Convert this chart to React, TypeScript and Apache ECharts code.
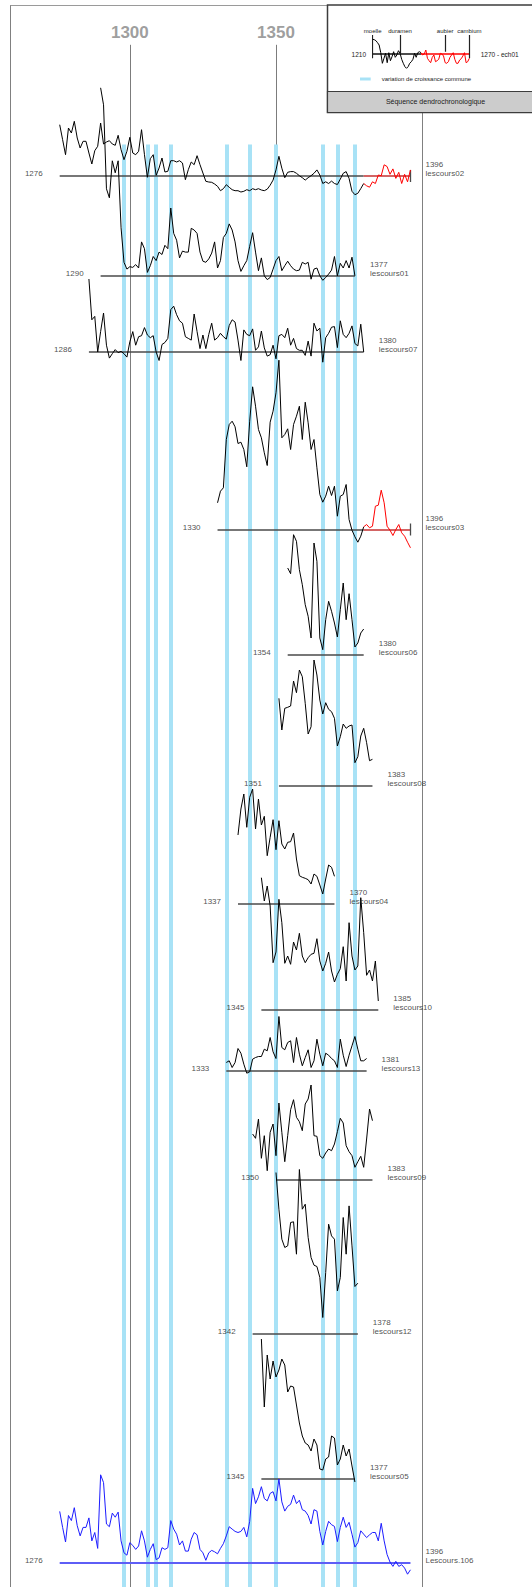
import React, { useEffect, useRef } from "react";
import * as echarts from "echarts";

const FONT = '"Liberation Sans", Arial, Helvetica, sans-serif';

// ---- dendrochronological samples -------------------------------------------
const sampleNames = [
  "lescours02", "lescours01", "lescours07", "lescours03", "lescours06", "lescours08", "lescours04",
  "lescours10", "lescours13", "lescours09", "lescours12", "lescours05", "Lescours.106",
];
// first / last dated ring of each sample
const firstYears = [1276, 1290, 1286, 1330, 1354, 1351, 1337, 1345, 1333, 1350, 1342, 1345, 1276];
const lastYears = [1396, 1377, 1380, 1396, 1380, 1383, 1370, 1385, 1381, 1383, 1378, 1377, 1396];
// first ring of the plotted ring-width curve
const curveFirstYears = [1276, 1290, 1286, 1330, 1354, 1351, 1337, 1345, 1333, 1342, 1350, 1345, 1276];
// first sapwood ring (aubier), 0 = none
const sapwoodFrom = [1380, 0, 0, 1380, 0, 0, 0, 0, 0, 0, 0, 0, 0];

// ring-width indices (one value per year)
const rw02 = [51.3, 36.3, 21.3, 48, 43, 54.7, 38, 28, 34.7, 34.7, 23, 12, 25.3, 29.7, 53, 32, 34, 35.3, 32, 30.7, 40.7, 26.3, 16.3, 24.7, 38.7, 23, 21.3, 24.7, 46.3, 21.3, -1.3, 17.3, 21.3, 0.7, 8, 18, 4, 4.7, 15.3, 15.3, 14, 15.3, 13, -3.7, 6.3, 14, 11.3, 20.3, 11.3, 3, -5.3, -6, -6.3, -8, -10.3, -14.7, -12.7, -8.7, -11.3, -13.7, -14.7, -14.7, -16, -15.3, -13.7, -14.7, -12.7, -13.7, -12.7, -14, -14.7,
  -13.2, -9.2, -4.1, 6.1, 19.7, 7.8, -1.7, 3.7, 4.4, 4.4, 2.7, 0.3, -1.7, -4.1, -1.7, 0.3, 2.7, 6.1, 1, -7.5, -5.8, -7.5, -5.1, -7.5, -8.5, -3.1, 2.7, 4.4, -2.4, -15.3, -18.7, -17.3, -12.6, -7.5, -9.8, -11.2, -5.8, -7.5, 1, 0.3, 11.2, 9.5, 1.7, 7.1, -2.4, 3.7, -7.5, 1.7, -5.8, 6.1];
const rw01 = [187.7, 170.7, 86.7, 77.7, 114.7, 102.7, 114.7, 47.7, 13.2, 6.4, 8.8, 8.1, 10.9, 7.5, 33.6, 26.8, 3.1, 9.8, 19, 14.9, 23.4, 21, 30.2, 26.8, 67.5, 42.1, 35.3, 17.6, 24.4, 23.4, 23.4, 47.2, 45.5, 42.1, 23.4, 14.3, 13.2, 16.6, 22.4, 33.6, 7.5, 14.9, 38, 42.1, 51.6, 45.5, 33.6, 14.9, 4.1, 9.8, 14.9, 29.2, 42.8, 23.4, 4.8, 17.6, -0.3, -4.1, -2, 6.4, 14.9, 19, 4.8, 9.8, 14.3, 9.8, 6.4, 4.8, 5.4, 13.2, 11.5, 13.2, -3.7, 6.4, 7.5, -0.3, -4.8, -2, 1.4, 5.4, 19, -0.3, 12.2, 7.5, 14.9, 7.5, 18.3, -0.3];
const rw07 = [73, 32.2, 35.6, 0, 20.4, 39, 6.8, -6.1, -1.7, 2.4, -0.7, 0.7, -1.7, -5.1, 10.2, 20.4, 6.8, 15.3, 16.3, 24.4, 17, 14.3, 16.3, 0, -8.5, 7.5, 9.5, 13.6, 42.4, 45.8, 37.3, 31.2, 28.8, 15.3, 13.6, 11.9, 38, 20.4, 3.4, 17, 3.4, 17.6, 28.8, 11.9, 14.3, 18.7, 15.3, 12.9, 26.5, 32.2, 29.9, 11.9, -8.5, 22.1, 17.6, 16.3, 23.1, 1.7, 5.1, 21, 4.1, -4.1, -2.7, 6.8, -6.8, 16.3, 17.6, 14.3, 23.8, 6.8, 13.6, 3.4, 1.7, 1.7, -3.4, 10.9, -4.1, 28.8, 21, 23.8, -10.2, 14.3, 18.7, 24.8, 25.4, 4.4, 31.2, 17.6, 14.3, 18.7, 26.1, 8.5, 6.1, 27.8, 0];
const rw03 = [26.7, 38.3, 41.7, 90, 105, 108.3, 102.7, 86, 87.3, 80, 62.7, 108.3, 142.7, 123.3, 100, 91.7, 76.7, 64, 107.3, 118.3, 136.7, 169.3, 91.7, 95, 100.7, 80, 105, 113.3, 123.3, 90, 127.3, 106.7, 80, 90, 61.7, 35, 27.3, 33.3, 43.3, 34, 43.3, 13.3, 33.3, 35, 45, 10, -0.7, -7.3, -12.7, -6.7, 2.7, 5, 1.7, 3.3, 23.3, 24.3, 39.3, 26.7, 3.3, -0.7, -6, 0, 5, -3.3, -6.7, -12.7, -18.3];
const rw06 = [87, 81.3, 120.3, 113.7, 85.3, 70.3, 50.3, 38.7, 17, 112, 93.7, 17, 5.3, 35.3, 53.7, 43.7, 32, 18, 45.3, 72, 35.3, 61.3, 35.3, 8, 12, 22, 26];
const rw08 = [87.7, 56, 77.7, 78.7, 80, 105, 93.3, 116, 109.3, 82.7, 52, 59.3, 126, 111, 86, 72, 83.3, 76.7, 74.3, 67.7, 40, 49.3, 62, 57.7, 60, 61, 23.3, 29.3, 50, 57.7, 43.3, 25.3, 26.7];
const rw04 = [69, 95, 110, 76.7, 106.7, 115, 75, 105, 79, 87.7, 48.3, 66.7, 84.3, 54.3, 83.3, 60, 55, 61.7, 62.3, 71, 45, 28.3, 26.7, 25.7, 24.3, 20, 30, 27.7, 19, 10, 25, 39, 36.7, 27.7];
const rw10 = [132.3, 109, 124, 104, 47.3, 58, 110.7, 87.3, 46.7, 54, 45.7, 68, 60, 76.7, 54, 47.3, 52.3, 55.7, 56.7, 71.3, 49, 39, 46.7, 58, 39, 28, 35.7, 41.3, 63.3, 29, 87.3, 54, 40, 44, 112.3, 77.3, 34.7, 40, 29, 49, 9];
const rw13 = [8, 9.7, 3, 8, 22, 17.3, 6.3, -2.7, -1.3, 11.3, 13, 14, 14, 21.3, 19.7, 33, 18.7, 12, 54, 23, 20.7, 28, 29.7, 8, 33, 16.3, 4.7, 13, 20.7, 3, 9.7, 31.3, 16.3, 4.7, 17.3, 15.3, 12, 9.7, 3, 31.3, 15.3, 4, 15.3, 24.7, 34, 21.3, 9.7, 9.7, 12];
const rw09 = [46, 41.7, 61, 21.7, 44.3, 9.3, 47.7, 56, 24.3, 77, 47.7, 18.3, 44.3, 70.3, 80.3, 62.7, 58.3, 49.3, 76, 81, 95, 44.3, 43.7, 24.3, 21.7, 27, 31, 29.3, 36, 48.3, 61.7, 57, 34.3, 28.3, 24.3, 12.7, 18.3, 23.7, 12.7, 41, 71, 59.3];
const rw12 = [161, 124.3, 94.3, 86, 87.7, 111, 111.7, 79.3, 164, 124.3, 129.3, 96, 76, 68.3, 67, 56, 16, 61, 109.3, 97.6, 94.3, 42.6, 56, 116, 79.3, 127.6, 87.6, 47, 50.3];
const rw05 = [140, 72, 124, 100, 118, 102, 109, 120, 114, 87, 93, 92, 74, 56, 43, 36, 34, 28, 40, 34, 10, 9, 20, 22, 43, 41, 14, 20, 34, 23, 30, 13, -3];
const rw106 = [51.6, 35.6, 21, 47.5, 42.4, 55.3, 37.3, 27.1, 35.6, 35.6, 45.1, 22.1, 30.5, 14.6, 88.2, 80.4, 39, 36.3, 49.9, 45.8, 50.9, 22.1, 10.2, 7.8, 20.4, 17.6, 13.6, 17, 32.2, 22.1, 5.8, 13.6, 19.3, 3.4, 5.1, 15.3, 13.6, 15.3, 42.4, 33.9, 28.8, 18, 22.1, 11.9, 11.9, 23.8, 30.5, 28.2, 13.6, 10.2, 2.7, 10.2, 12.6, 11.2, 9.2, 14.6, 19.3, 27.1, 36.3, 33.9, 31.6, 30.5, 31.6, 35.6, 26.1, 41.7, 74.6, 59.4, 66.2, 76.3, 64.5, 62.1, 69.6, 71.3, 62.1, 84.1, 61.1, 51.9, 56.7, 58.7, 67.9, 59.4, 62.8, 53.3, 51.9, 47.5, 39, 53.3, 51.9, 31.6, 18, 31.6, 41.7, 38.3, 36.6, 21.4, 35.6, 45.8, 35.6, 40.7, 28.8, 15.9, 20.4, 32.2, 28.8, 25.4, 28.2, 30.5, 30.5, 22.1, 39.7, 22.1, 8.5, 1, -3.4, 1.7, -3.4, -1.7, -5.1, -11.2, -6.8];
const ringWidths = [rw02, rw01, rw07, rw03, rw06, rw08, rw04, rw10, rw13, rw09, rw12, rw05, rw106];

// years of common growth variation (blue bands) and the marked decades
const commonGrowthYears = [1298, 1306, 1309, 1314, 1333, 1341, 1350, 1366, 1371, 1377];
const markerYears = [1300, 1350];

// legend specimen "ech01"
const legendFirst = 1210;
const legendLast = 1270;
const legendSapwood = 1240;
const legendRings = [14.7, 14.3, 13.3, 11.3, 9, 1.3, -9.3, -4.3, 0.7, -8.7, 1.3, -6.7, -2.7, 2.3, -3.3, -1, 3.3, 0.7, -5.3, -9.3, -12.7, -14.3, -12.7, -9.3, -7.7, -5.3, 0.7, -3.3, 1.3, 2.3, 1.3, -1, 0, 4, -4.3, -6.7, -8.7, -3.3, -1, -7.7, -6.7, -5.3, 0.7, 0, -2, -8.7, -9.3, -7.7, -3.3, -1, 1.3, -5.3, -9.3, -9.3, -6, -4.7, -2, 1.3, -8.7, -7.7, -4.3];
const legendMarkNames = ["moelle", "duramen", "aubier", "cambium"];
const legendMarkYears = [1210, 1227, 1255, 1270];
const legendMarkLow = [-4.3, 0.7, 2.3, -4.3];

// ---- layout -------------------------------------------------------------------
const W = 532;
const H = 1587;
const X_MIN = 1255.58;
const X_MAX = 1437.58;
const trackBaseY = [176, 275.5, 352, 529.5, 655, 786, 904, 1010, 1070.5, 1180, 1333.5, 1479, 1563];
const BAND_TOP = 144.5;
const MARKER_TOP = 44.8;
const TITLE_Y = 32.5;
const BLUE_BAND = "#a8e2f6";

function ringPoints(first: number, values: number[], base: number, from: number, to: number) {
  const pts: number[][] = [];
  values.forEach((v, i) => {
    const yr = first + i;
    if (yr >= from && yr <= to) pts.push([yr, base - v]);
  });
  return pts;
}

function buildOption() {
  const series: any[] = [];
  const lineCommon = { type: "line", symbol: "none", silent: true, animation: false };

  series.push({
    type: "lines", coordinateSystem: "cartesian2d", xAxisIndex: 0, yAxisIndex: 0, z: 1, silent: true,
    lineStyle: { color: "#7c7c7c", width: 1, opacity: 1 },
    data: markerYears.map((y) => ({ coords: [[y, MARKER_TOP], [y, H]] })),
  });
  series.push({
    type: "lines", coordinateSystem: "cartesian2d", xAxisIndex: 0, yAxisIndex: 0, z: 2, silent: true,
    lineStyle: { color: BLUE_BAND, width: 4, opacity: 1 },
    data: commonGrowthYears.map((y) => ({ coords: [[y, BAND_TOP], [y, H]] })),
  });
  series.push({
    type: "scatter", xAxisIndex: 0, yAxisIndex: 0, symbolSize: 1, z: 5, silent: true,
    itemStyle: { color: "rgba(0,0,0,0)" },
    data: markerYears.map((y) => ({
      value: [y, TITLE_Y],
      label: { show: true, position: "inside", formatter: String(y), color: "#858585", fontSize: 17, fontWeight: "bold", fontFamily: FONT },
    })),
  });

  sampleNames.forEach((name, k) => {
    const base = trackBaseY[k];
    const first = firstYears[k];
    const last = lastYears[k];
    const sap = sapwoodFrom[k];
    const isMaster = k === sampleNames.length - 1;
    const heartEnd = sap ? sap : last;
    const curveColor = isMaster ? "#1c1cff" : "#000000";
    const baseColor = isMaster ? "#5e5ef6" : "#4a4a4a";

    const baseSegments: any[] = [{ coords: [[first, base], [heartEnd, base]], lineStyle: { color: baseColor } }];
    if (sap) {
      baseSegments.push({ coords: [[sap, base], [last, base]], lineStyle: { color: "#c43131" } });
      baseSegments.push({ coords: [[last, base - 6], [last, base + 6]], lineStyle: { color: "#4a4a4a", width: 1.3 } });
    }
    series.push({
      type: "lines", coordinateSystem: "cartesian2d", xAxisIndex: 0, yAxisIndex: 0, z: 3, silent: true,
      lineStyle: { width: isMaster ? 2 : 1.5, opacity: 1 },
      data: baseSegments,
    });

    const cFirst = curveFirstYears[k];
    const vals = ringWidths[k];
    series.push({
      ...lineCommon, xAxisIndex: 0, yAxisIndex: 0, z: 4,
      lineStyle: { color: curveColor, width: 1 },
      data: ringPoints(cFirst, vals, base, cFirst, heartEnd),
    });
    if (sap) {
      series.push({
        ...lineCommon, xAxisIndex: 0, yAxisIndex: 0, z: 4,
        lineStyle: { color: "#ff0000", width: 1 },
        data: ringPoints(cFirst, vals, base, sap, last),
      });
    }

    const labelStyle = { color: "#1a1a1a", fontSize: 8, fontFamily: FONT };
    series.push({
      type: "scatter", xAxisIndex: 0, yAxisIndex: 0, symbolSize: 1, z: 5, silent: true,
      itemStyle: { color: "rgba(0,0,0,0)" },
      data: [
        { value: [first, base], label: { show: true, position: "left", distance: 16.5, offset: [0, -2.5], formatter: String(first), ...labelStyle } },
        { value: [last, base], label: { show: true, position: "right", distance: 14.5, offset: [0, -7], lineHeight: 9, formatter: `${last}\n${name}`, ...labelStyle } },
      ],
    });
  });

  // legend specimen
  series.push({
    type: "lines", coordinateSystem: "cartesian2d", xAxisIndex: 1, yAxisIndex: 1, z: 3, silent: true,
    lineStyle: { width: 1.5, opacity: 1 },
    data: [
      { coords: [[legendFirst, 0], [legendSapwood, 0]], lineStyle: { color: "#111111" } },
      { coords: [[legendSapwood, 0], [legendLast, 0]], lineStyle: { color: "#ff0000" } },
    ],
  });
  series.push({
    type: "lines", coordinateSystem: "cartesian2d", xAxisIndex: 1, yAxisIndex: 1, z: 3, silent: true,
    lineStyle: { width: 1.2, color: "#222222", opacity: 1 },
    data: legendMarkYears.map((y, i) => ({ coords: [[y, 19], [y, legendMarkLow[i]]] })),
  });
  series.push({
    ...lineCommon, xAxisIndex: 1, yAxisIndex: 1, z: 4,
    lineStyle: { color: "#000000", width: 1 },
    data: ringPoints(legendFirst, legendRings, 0, legendFirst, legendSapwood).map((p) => [p[0], -p[1]]),
  });
  series.push({
    ...lineCommon, xAxisIndex: 1, yAxisIndex: 1, z: 4,
    lineStyle: { color: "#ff0000", width: 1 },
    data: ringPoints(legendFirst, legendRings, 0, legendSapwood, legendLast).map((p) => [p[0], -p[1]]),
  });

  const legendX = (y: number) => 372.7 + ((y - legendFirst) / (legendLast - legendFirst)) * 96.6;
  const txt = (text: string, x: number, y: number, size: number, align: string, extra: any = {}) => ({
    type: "text", x, y, silent: true,
    style: {
      text, fill: "#1a1a1a", fontSize: size, fontFamily: FONT,
      align, verticalAlign: "middle", textAlign: align, textVerticalAlign: "middle", ...extra,
    },
  });

  const graphic: any[] = [
    { type: "line", silent: true, shape: { x1: 10.5, y1: 5, x2: 10.5, y2: H }, style: { stroke: "#808080", lineWidth: 1 } },
    { type: "line", silent: true, shape: { x1: 10.5, y1: 5.5, x2: 328, y2: 5.5 }, style: { stroke: "#9a9a9a", lineWidth: 1 } },
    { type: "line", silent: true, shape: { x1: 422.5, y1: 113, x2: 422.5, y2: H }, style: { stroke: "#808080", lineWidth: 1 } },
    { type: "rect", silent: true, shape: { x: 327.5, y: 5, width: 215, height: 107.5 }, style: { fill: "#ffffff", stroke: "#3c3c3c", lineWidth: 1.5 } },
    { type: "rect", silent: true, shape: { x: 327.5, y: 91.5, width: 215, height: 21 }, style: { fill: "#cccccc", stroke: "#3c3c3c", lineWidth: 1.2 } },
    txt("Séquence dendrochronologique", 435.5, 101.5, 7, "center"),
    { type: "rect", silent: true, shape: { x: 360, y: 77.5, width: 10.7, height: 3 }, style: { fill: BLUE_BAND } },
    txt("variation de croissance commune", 381.7, 79, 6, "left"),
    txt(String(legendFirst), 366, 54, 6.5, "right"),
    txt(`${legendLast} - ech01`, 480.7, 54, 6.5, "left"),
    ...legendMarkNames.map((n, i) => txt(n, legendX(legendMarkYears[i]), 31, 6, "center")),
  ];

  return {
    animation: false,
    backgroundColor: "#ffffff",
    grid: [
      { left: 0, right: 0, top: 0, bottom: 0, containLabel: false },
      { left: 372.7, width: 96.6, top: 35, height: 35, containLabel: false },
    ],
    xAxis: [
      { type: "value", gridIndex: 0, min: X_MIN, max: X_MAX, show: false },
      { type: "value", gridIndex: 1, min: legendFirst, max: legendLast, show: false },
    ],
    yAxis: [
      { type: "value", gridIndex: 0, min: 0, max: H, inverse: true, show: false },
      { type: "value", gridIndex: 1, min: -16, max: 19, show: false },
    ],
    graphic,
    series,
  };
}

export default function App() {
  const ref = useRef<HTMLDivElement>(null);
  useEffect(() => {
    document.body.style.margin = "0";
    const chart = echarts.init(ref.current as HTMLDivElement, null, { renderer: "svg" });
    chart.setOption(buildOption() as any);
    return () => chart.dispose();
  }, []);
  return <div ref={ref} style={{ width: W, height: H, background: "#ffffff" }} />;
}
